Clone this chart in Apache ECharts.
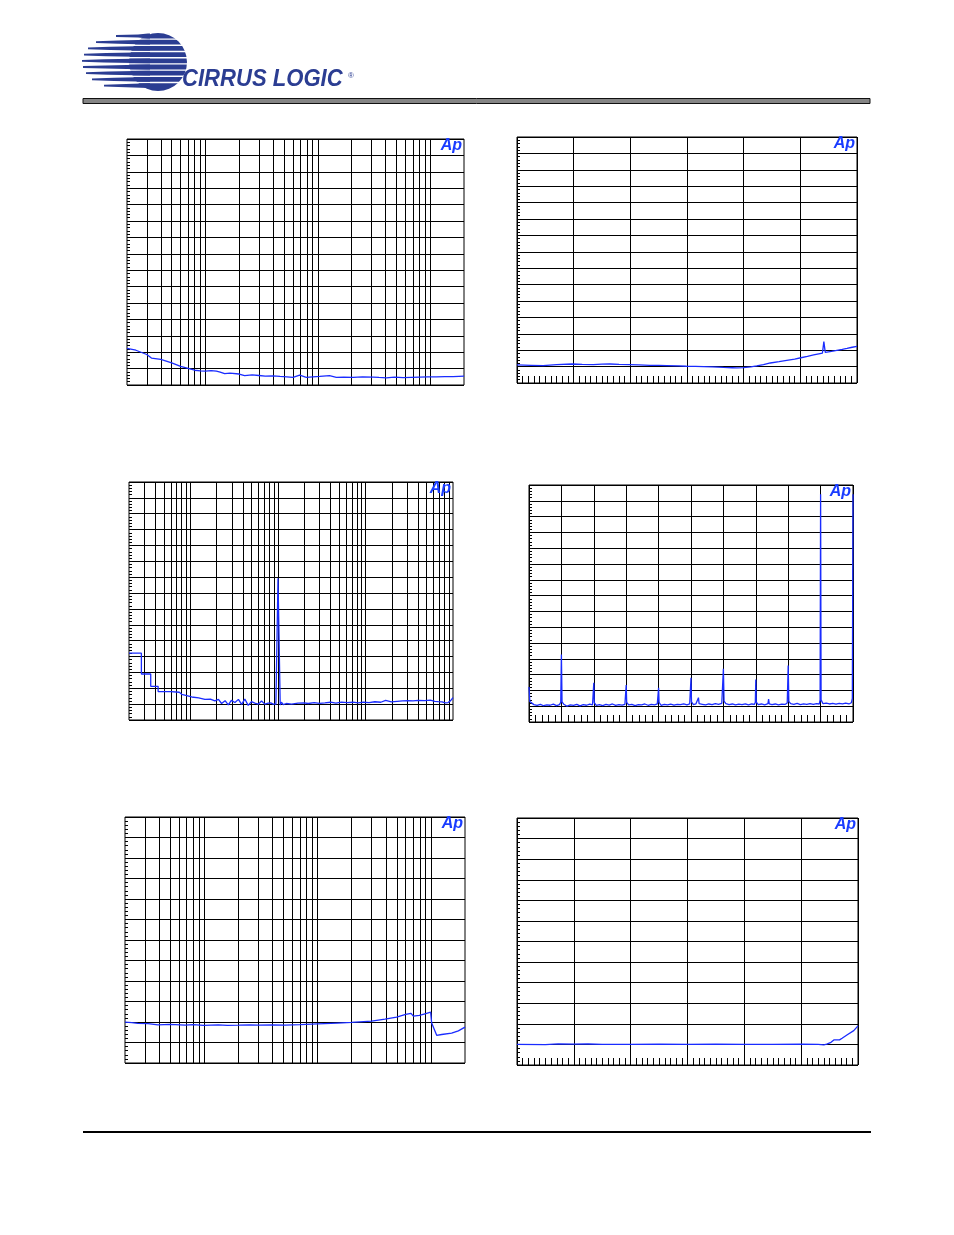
<!DOCTYPE html>
<html>
<head>
<meta charset="utf-8">
<script src="https://cdn.jsdelivr.net/npm/echarts@6/dist/echarts.min.js"></script>
<style>
html,body{margin:0;padding:0;background:#fff;}
#main{width:954px;height:1235px;}
</style>
</head>
<body>
<div id="main"></div>
<script>
// ---------- DATA ----------
// vertical grid frequencies for log axes (Hz)
const logGrid20k = [30,40,50,60,70,80,90,100,200,300,400,500,600,700,800,900,1000,2000,3000,4000,5000,6000,7000,8000,9000,10000];
const logGrid100k = [30,40,50,60,70,80,90,100,200,300,400,500,600,700,800,900,1000,2000,3000,4000,5000,6000,7000,8000,9000,10000,20000,30000,40000,50000,60000,70000,80000,90000];

// Chart 1: [Hz, dB]
const chart1 = [[20,-127.6],[24,-128.8],[30,-131.4],[33,-133.6],[40,-134.4],[50,-136.5],[60,-138.6],[70,-139.8],[80,-141.0],[90,-141.4],[100,-141.5],[112,-141.2],[125,-141.6],[135,-142.2],[148,-143.1],[165,-142.8],[199,-143.3],[223,-144.3],[260,-143.8],[299,-144.2],[340,-144.6],[399,-144.4],[460,-144.8],[530,-145.0],[601,-145.4],[689,-144.0],[789,-145.3],[900,-145.0],[1040,-144.8],[1270,-144.3],[1460,-145.3],[1700,-145.2],[2060,-145.3],[2500,-145.1],[3100,-145.2],[3500,-145.4],[4070,-145.6],[4800,-145.2],[5730,-145.5],[6800,-145.3],[8060,-145.2],[9500,-145.1],[11350,-145.0],[13500,-144.9],[15960,-144.9],[18000,-144.7],[20000,-144.6]];

// Chart 2: [dBFS, dB]
const chart2 = [[-120,-139.0],[-115,-139.2],[-110.8,-139.4],[-106,-138.8],[-100.6,-138.4],[-97,-138.6],[-93.1,-138.8],[-90,-138.5],[-87.2,-138.4],[-84,-138.6],[-80.4,-138.8],[-77,-139.0],[-73.1,-139.2],[-70,-139.3],[-67.2,-139.4],[-63,-139.6],[-60.2,-139.8],[-57,-139.9],[-54.2,-140.0],[-51,-140.2],[-47.1,-140.5],[-44,-140.7],[-42.4,-140.8],[-40.1,-140.6],[-37.5,-140.2],[-35.4,-139.6],[-33,-138.8],[-30.6,-137.8],[-27.5,-137.0],[-24.8,-136.2],[-22,-135.4],[-19.8,-134.6],[-17.5,-133.8],[-15.3,-132.9],[-13.5,-132.2],[-12.2,-131.8],[-11.7,-124.8],[-11.2,-131.3],[-9,-130.7],[-7.1,-130.1],[-5.2,-129.5],[-3.5,-128.9],[-1.7,-128.2],[0,-127.6]];

// Chart 3: [Hz, dB]
const chart3 = [[20,-107.9],[27.7,-107.9],[27.7,-121.0],[35.4,-121.0],[35.4,-128.8],[43,-128.8],[43,-132.1],[60,-132.1],[75,-132.5],[80,-133.8],[104,-135.5],[125,-136.0],[147,-137.0],[170,-136.8],[191,-138.0],[210,-137.0],[228,-139.6],[250,-137.8],[272,-140.5],[295,-137.6],[324,-139.0],[355,-137.0],[386,-140.2],[420,-136.8],[459,-140.8],[500,-138.4],[547,-139.4],[600,-140.0],[652,-138.0],[710,-140.0],[776,-139.4],[830,-139.2],[885,-140.0],[920,-139.2],[951,-140.0],[1005,-60.6],[1065,-140.5],[1100,-138.8],[1151,-140.3],[1250,-139.6],[1435,-140.0],[1700,-139.4],[2000,-139.2],[2224,-139.6],[2600,-139.0],[3000,-139.5],[3444,-139.2],[4000,-138.8],[4600,-139.3],[5335,-138.7],[6200,-139.0],[7200,-138.8],[8260,-139.2],[9500,-138.8],[11000,-139.0],[12800,-138.5],[15000,-138.8],[17000,-137.6],[19820,-138.6],[23000,-138.2],[26500,-138.0],[30700,-137.8],[35000,-138.0],[40000,-137.6],[47550,-137.8],[55000,-137.5],[62000,-138.2],[67600,-138.4],[75000,-138.6],[82000,-139.2],[87900,-139.0],[94000,-137.8],[100000,-135.9]];

// Chart 4: FFT [kHz, dB]
const chart4 = [[0,-127.9],[0.05,-137.0],[0.12,-138.2],[0.3,-139.0],[0.5,-139.5],[0.7,-138.8],[0.9,-139.7],[1.1,-139.1],[1.3,-139.4],[1.5,-138.7],[1.7,-139.6],[1.88,-139.0],[1.96,-137.5],[2,-107.3],[2.04,-137.2],
[2.15,-138.8],[2.35,-140.0],[2.55,-139.2],[2.75,-139.5],[2.95,-138.8],[3.15,-139.8],[3.35,-139.0],[3.55,-139.4],[3.75,-138.7],[3.92,-139.2],[3.97,-138.0],[4,-125.2],[4.03,-137.8],
[4.15,-139.5],[4.35,-139.0],[4.55,-139.6],[4.75,-138.9],[4.95,-139.3],[5.15,-138.6],[5.35,-139.5],[5.55,-139.0],[5.75,-139.3],[5.92,-138.8],[5.97,-138.0],[6,-126.6],[6.03,-137.6],
[6.15,-139.2],[6.35,-138.8],[6.55,-139.6],[6.75,-139.0],[6.95,-139.2],[7.15,-138.6],[7.35,-139.4],[7.55,-138.8],[7.75,-139.1],[7.92,-138.5],[7.97,-137.8],[8,-128.3],[8.03,-137.6],
[8.15,-139.4],[8.35,-138.8],[8.55,-139.2],[8.75,-138.7],[8.95,-139.3],[9.15,-138.8],[9.35,-139.0],[9.55,-138.5],[9.75,-139.1],[9.92,-138.6],[9.97,-137.5],[10,-122.0],[10.03,-137.2],
[10.15,-139.0],[10.3,-138.6],[10.42,-138.4],[10.46,-134.6],[10.5,-138.4],[10.7,-138.8],[10.9,-139.2],[11.1,-138.6],[11.3,-139.0],[11.5,-138.4],[11.7,-138.9],[11.9,-138.2],[11.96,-137.0],[12,-116.3],[12.04,-136.8],
[12.15,-138.4],[12.35,-139.0],[12.55,-138.6],[12.75,-139.2],[12.95,-138.7],[13.15,-139.0],[13.35,-138.5],[13.55,-139.2],[13.75,-138.6],[13.92,-138.8],[13.97,-137.5],[14,-123.1],[14.03,-137.4],
[14.15,-139.0],[14.35,-138.6],[14.55,-139.1],[14.75,-138.4],[14.79,-135.5],[14.83,-138.5],[15.0,-139.0],[15.2,-138.6],[15.4,-139.2],[15.6,-138.7],[15.8,-138.9],[15.94,-138.0],[16,-114.2],[16.04,-137.0],
[16.15,-138.4],[16.35,-138.8],[16.55,-138.2],[16.75,-139.0],[16.95,-138.5],[17.15,-138.8],[17.35,-138.3],[17.55,-138.9],[17.75,-138.4],[17.92,-138.6],[17.97,-136.0],[18,-5.9],[18.03,-136.0],
[18.15,-138.4],[18.35,-138.0],[18.55,-138.6],[18.75,-138.2],[18.95,-138.7],[19.15,-138.2],[19.35,-138.5],[19.55,-138.0],[19.75,-138.6],[19.9,-137.8],[19.96,-135.0],[20,-5.9]];

// Chart 5: [Hz, dB]
const chart5 = [[20,-4.01],[23,-4.03],[26,-4.07],[32,-4.08],[39,-4.14],[50,-4.12],[68,-4.15],[80,-4.13],[99,-4.16],[133,-4.14],[160,-4.16],[203,-4.15],[250,-4.14],[300,-4.15],[400,-4.14],[517,-4.15],[700,-4.13],[1002,-4.09],[1500,-4.05],[2000,-4.02],[3000,-3.96],[3936,-3.86],[4990,-3.76],[5990,-3.63],[6680,-3.58],[7000,-3.71],[7910,-3.68],[8870,-3.60],[9950,-3.52],[10160,-4.05],[11250,-4.65],[12450,-4.61],[15250,-4.54],[17470,-4.43],[20000,-4.25]];

// Chart 6: [dBFS, dB]
const chart6 = [[-120,-5.00],[-110,-5.01],[-105.5,-4.97],[-100,-4.99],[-95,-4.98],[-90,-5.00],[-80,-5.00],[-70,-4.99],[-60,-5.00],[-50,-4.99],[-40,-5.00],[-30,-5.00],[-20,-4.99],[-14,-5.00],[-12,-5.02],[-11,-4.99],[-10.3,-4.98],[-9.5,-4.90],[-8.5,-4.78],[-6.5,-4.78],[-5.6,-4.70],[-3.9,-4.54],[-1.5,-4.33],[0,-4.10]];

// ---------- LAYOUT ----------
const grids = [
  {left:127, top:139, width:337, height:246},
  {left:517, top:137, width:340, height:246},
  {left:129, top:482, width:324, height:238},
  {left:529, top:485, width:324, height:237},
  {left:125, top:817, width:340, height:246},
  {left:517, top:818, width:341, height:247}
];
const BLACK = '#000';
const CURVE = '#1a2cff';

function yAx(i, min, max, interval){
  return {gridIndex:i, type:'value', min:min, max:max, interval:interval,
    axisLabel:{show:false}, axisLine:{show:false, onZero:false},
    axisTick:{show:true, inside:true, length:3, lineStyle:{color:BLACK}},
    minorTick:{show:true, splitNumber:5, length:3, lineStyle:{color:BLACK, width:1}},
    splitLine:{show:true, lineStyle:{color:BLACK, width:1}}};
}
function xLog(i, min, max){
  return {gridIndex:i, type:'log', logBase:10, min:min, max:max,
    axisLabel:{show:false}, axisLine:{show:false, onZero:false},
    axisTick:{show:false}, splitLine:{show:false}, minorTick:{show:false}};
}
function xLin(i, min, max, interval, minorSplit){
  return {gridIndex:i, type:'value', min:min, max:max, interval:interval,
    axisLabel:{show:false}, axisLine:{show:false, onZero:false},
    axisTick:{show:true, inside:true, length:7, lineStyle:{color:BLACK}},
    minorTick:{show:true, splitNumber:minorSplit, length:7, lineStyle:{color:BLACK, width:1}},
    splitLine:{show:true, lineStyle:{color:BLACK, width:1}}};
}
function gridLines(i, freqs){
  return {type:'line', xAxisIndex:i, yAxisIndex:i, data:[], silent:true, z:1,
    markLine:{silent:true, symbol:['none','none'], z:1, animation:false,
      label:{show:false}, emphasis:{disabled:true},
      lineStyle:{color:BLACK, width:1, type:'solid'},
      data:freqs.map(f=>({xAxis:f}))}};
}
function curve(i, data){
  return {type:'line', xAxisIndex:i, yAxisIndex:i, data:data, showSymbol:false, symbol:'none',
    z:3, clip:true, animation:false, silent:true,
    lineStyle:{color:CURVE, width:1.3}};
}

// ---------- LOGO / DECOR ----------
const logoBlue = '#2b3d92';
const graphics = [];
graphics.push({type:'circle', shape:{cx:158, cy:62, r:29}, style:{fill:logoBlue}});
const stripeY = [36, 42.2, 48.4, 54.6, 60.8, 67, 73.2, 79.4, 85.6];
const stripeX = [116, 96, 88, 84, 82, 83, 86, 92, 104];
for (let k=0;k<stripeY.length-1;k++){
  const gy = stripeY[k]+3.1;
  graphics.push({type:'rect', shape:{x:100, y:gy-0.7, width:92, height:1.4}, style:{fill:'#fff'}});
}
for (let k=0;k<stripeY.length;k++){
  const yc = stripeY[k], xl = stripeX[k];
  graphics.push({type:'polygon', shape:{points:[[xl,yc-0.9],[xl+22,yc-1.6],[148,yc-2.4],[150,yc-2.4],[150,yc+2.4],[148,yc+2.4],[xl+22,yc+1.6],[xl,yc+0.9]]}, style:{fill:logoBlue}});
}
graphics.push({type:'text', x:182, y:91, scaleX:0.92, style:{text:'CIRRUS LOGIC', font:'italic bold 24px "Liberation Sans", Arial, sans-serif', fill:logoBlue, textAlign:'left', textVerticalAlign:'bottom', align:'left', verticalAlign:'bottom'}});
graphics.push({type:'text', x:348, y:72, style:{text:'®', font:'8px "Liberation Sans", Arial, sans-serif', fill:logoBlue, textAlign:'left', textVerticalAlign:'top', align:'left', verticalAlign:'top'}});
// header bar
graphics.push({type:'rect', shape:{x:83, y:98.5, width:787, height:5}, style:{fill:'#858585', stroke:'#111', lineWidth:1}});
// footer rule
graphics.push({type:'line', shape:{x1:83, y1:1132, x2:871, y2:1132}, style:{stroke:'#000', lineWidth:2}});
// Ap marks
grids.forEach(g=>{
  graphics.push({type:'text', x:g.left+g.width-2, y:g.top-1, z:10, style:{text:'Ap', font:'italic bold 16px "Liberation Sans", Arial, sans-serif', fill:'#1a3cff', textAlign:'right', textVerticalAlign:'top', align:'right', verticalAlign:'top'}});
});

const option = {
  backgroundColor:'#fff',
  animation:false,
  grid: grids.map(g=>Object.assign({show:true, borderColor:BLACK, borderWidth:1, backgroundColor:'transparent', containLabel:false}, g)),
  xAxis:[
    xLog(0,20,20000),
    xLin(1,-120,0,20,10),
    xLog(2,20,100000),
    xLin(3,0,20,2,5),
    xLog(4,20,20000),
    xLin(5,-120,0,20,10)
  ],
  yAxis:[
    yAx(0,-150,0,10),
    yAx(1,-150,0,10),
    yAx(2,-150,0,10),
    yAx(3,-150,0,10),
    yAx(4,-6,6,1),
    yAx(5,-6,6,1)
  ],
  series:[
    gridLines(0, logGrid20k),
    gridLines(2, logGrid100k),
    gridLines(4, logGrid20k),
    curve(0, chart1),
    curve(1, chart2),
    curve(2, chart3),
    curve(3, chart4),
    curve(4, chart5),
    curve(5, chart6)
  ],
  graphic:{elements:graphics}
};
const chart = echarts.init(document.getElementById('main'), null, {renderer:'canvas', width:954, height:1235});
chart.setOption(option);
</script>
</body>
</html>
